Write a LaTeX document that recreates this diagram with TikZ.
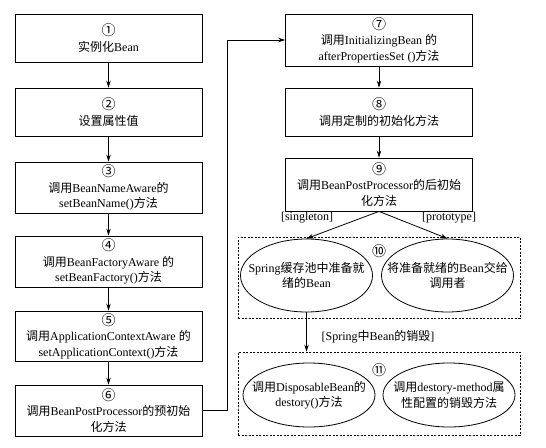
\documentclass[tikz,border=0pt]{standalone}
\usepackage{fontspec}
\setmainfont{Liberation Serif}
\newfontfamily\cjk{Noto Sans CJK SC}
\newcommand\zh[1]{{\cjk #1}}
\newcommand\stepno[1]{{\cjk\fontsize{14}{15.5}\selectfont #1}}
\usetikzlibrary{shapes.geometric,arrows.meta}

\begin{document}
\begin{tikzpicture}[x=1pt,y=-1pt,
  font=\fontsize{12}{15.5}\selectfont,
  stepbox/.style={draw,line width=.8pt,align=center,minimum width=187pt,inner sep=1pt},
  oval/.style={draw,ellipse,line width=.8pt,minimum width=132pt,inner sep=0pt},
  ovaltext/.style={align=center,inner sep=0pt},
  dashbox/.style={draw,line width=.7pt,dash pattern=on 2pt off 1.5pt,minimum width=282pt,inner sep=0pt},
  arr/.style={-{Stealth[length=7pt,width=4.5pt]},line width=.8pt}]
      \useasboundingbox (0,0) rectangle (546,447);

      \def\lx{108.5}
      \def\rx{379}

      % left column
      \path node (b1) at (\lx,38) [stepbox,minimum height=48pt]
            {\stepno{①}\\\zh{实例化}Bean};
      \path node (b2) at (\lx,112) [stepbox,minimum height=48pt]
            {\stepno{②}\\\zh{设置属性值}};
      \path node (b3) at (\lx,187.5) [stepbox,minimum height=51pt]
            {\stepno{③}\\\zh{调用}BeanNameAware\zh{的}\\setBeanName()\zh{方法}};
      \path node (b4) at (\lx,261.5) [stepbox,minimum height=51pt]
            {\stepno{④}\\\zh{调用}BeanFactoryAware \zh{的}\\setBeanFactory()\zh{方法}};
      \path node (b5) at (\lx,336) [stepbox,minimum height=50pt]
            {\stepno{⑤}\\\zh{调用}ApplicationContextAware \zh{的}\\setApplicationContext()\zh{方法}};
      \path node (b6) at (\lx,410.5) [stepbox,minimum height=51pt]
            {\stepno{⑥}\\\zh{调用}BeanPostProcessor\zh{的预初始}\\\zh{化方法}};

      % right column
      \path node (b7) at (\rx,40) [stepbox,minimum height=52pt]
            {\stepno{⑦}\\\zh{调用}InitializingBean \zh{的}\\afterPropertiesSet ()\zh{方法}};
      \path node (b8) at (\rx,112) [stepbox,minimum height=48pt]
            {\stepno{⑧}\\\zh{调用定制的初始化方法}};
      \path node (b9) at (\rx,184.5) [stepbox,minimum height=53pt]
            {\stepno{⑨}\\\zh{调用}BeanPostProcessor\zh{的后初始}\\\zh{化方法}};

      % groups
      \path node (g10) at (\rx,277.5) [dashbox,minimum height=81pt] {};
      \path node (g11) at (\rx,393.5) [dashbox,minimum height=83pt] {};

      \path node (e1) at (306.5,275.5) [oval,minimum height=73pt] {};
      \path node at (e1) [ovaltext] {Spring\zh{缓存池中准备就}\\\zh{绪的}Bean};
      \path node (e2) at (447.5,275.5) [oval,minimum height=73pt] {};
      \path node at (e2) [ovaltext] {\zh{将准备就绪的}Bean\zh{交给}\\\zh{调用者}};
      \path node (e3) at (309,395) [oval,minimum height=64pt] {};
      \path node at (e3) [ovaltext] {\zh{调用}DisposableBean\zh{的}\\destory()\zh{方法}};
      \path node (e4) at (449,395) [oval,minimum height=64pt] {};
      \path node at (e4) [ovaltext] {\zh{调用}destory-method\zh{属}\\\zh{性配置的销毁方法}};

      \path node (n10) at (\rx,251) {\stepno{⑩}};
      \path node (n11) at (\rx,370) {\stepno{⑪}};

      % labels
      \path node (lsing) at (307,218) {[singleton]};
      \path node (lproto) at (449,218) {[prototype]};
      \path node (ldestroy) at (378,337) {[Spring\zh{中}Bean\zh{的销毁}]};

      % arrows
      \foreach \a/\b in {b1/b2,b2/b3,b3/b4,b4/b5,b5/b6,b7/b8,b8/b9}
        \draw[arr] (\a) -- (\b);
      \draw[arr] (b6.east) -- ++(25,0) |- (b7.west);
      \draw[arr] (b9.south) -- (e1.north);
      \draw[arr] (b9.south) -- (e2.north);
      \draw[arr] (e1.south) -- (e1.south |- g11.north);
    \end{tikzpicture}
\end{document}
